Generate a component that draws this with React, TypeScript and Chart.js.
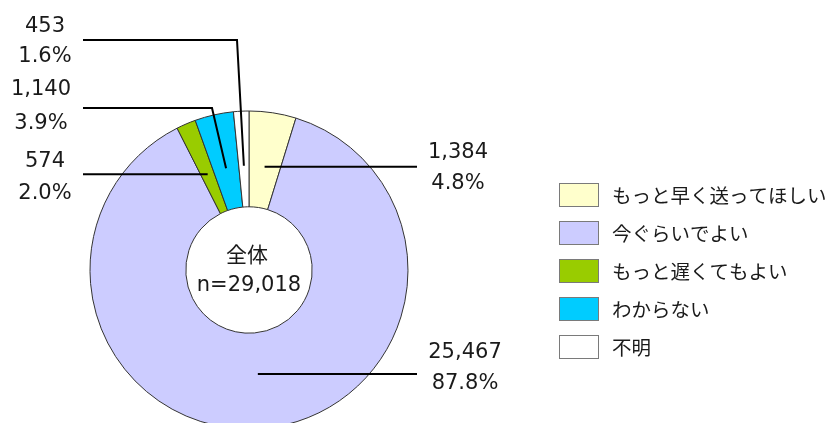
import React, { useEffect, useRef } from "react";
import { Chart, registerables } from "chart.js";

Chart.register(...registerables);

const categories = ["もっと早く送ってほしい", "今ぐらいでよい", "もっと遅くてもよい", "わからない", "不明"];
const counts = [1384, 25467, 574, 1140, 453];
const colors = ["#FFFFCC", "#CCCCFF", "#99CC00", "#00CCFF", "#FFFFFF"];
const centerTitle = "全体";

// label placement (layout only)
const labelLayout = [
  { cx: 458, y1: 158, y2: 189, elbowX: null as number | null, lineY: null as number | null, endX: 417 },
  { cx: 465, y1: 358, y2: 389, elbowX: null, lineY: null, endX: 417 },
  { cx: 45, y1: 166.7, y2: 199, elbowX: null, lineY: null, endX: 83 },
  { cx: 41, y1: 95, y2: 129, elbowX: 212, lineY: 108, endX: 83 },
  { cx: 45, y1: 31.7, y2: 62.3, elbowX: 237, lineY: 40, endX: 83 },
];

const NUM_FONT = "21px 'DejaVu Sans', 'Noto Sans CJK JP', sans-serif";
const JP_FONT = "19.5px 'Noto Sans CJK JP', sans-serif";

const total = counts.reduce((a, b) => a + b, 0);

const overlayPlugin = {
  id: "overlay",
  afterDraw(chart: any) {
    const ctx = chart.ctx as CanvasRenderingContext2D;
    const meta = chart.getDatasetMeta(0);
    ctx.save();
    // leader lines + labels
    meta.data.forEach((arc: any, i: number) => {
      const p = arc.getProps(["x", "y", "startAngle", "endAngle", "innerRadius", "outerRadius"], true);
      const mid = (p.startAngle + p.endAngle) / 2;
      const r = p.innerRadius + (p.outerRadius - p.innerRadius) * 0.43;
      const ax = p.x + Math.cos(mid) * r;
      const ay = p.y + Math.sin(mid) * r;
      const L = labelLayout[i];
      ctx.strokeStyle = "#000";
      ctx.lineWidth = 2;
      ctx.beginPath();
      ctx.moveTo(ax, ay);
      if (L.elbowX != null && L.lineY != null) {
        ctx.lineTo(L.elbowX, L.lineY);
        ctx.lineTo(L.endX, L.lineY);
      } else {
        ctx.lineTo(L.endX, ay);
      }
      ctx.stroke();
      ctx.fillStyle = "#1a1a1a";
      ctx.font = NUM_FONT;
      ctx.textAlign = "center";
      ctx.textBaseline = "alphabetic";
      ctx.fillText(counts[i].toLocaleString("en-US"), L.cx, L.y1);
      ctx.fillText(((counts[i] / total) * 100).toFixed(1) + "%", L.cx, L.y2);
    });
    // center text
    const c = meta.data[0].getProps(["x", "y"], true);
    ctx.fillStyle = "#1a1a1a";
    ctx.textAlign = "center";
    ctx.font = "21px 'Noto Sans CJK JP', sans-serif";
    ctx.textBaseline = "middle";
    ctx.fillText(centerTitle, c.x - 2, c.y - 16);
    ctx.font = NUM_FONT;
    ctx.textBaseline = "alphabetic";
    ctx.fillText("n=" + total.toLocaleString("en-US"), c.x, c.y + 21);
    // legend
    categories.forEach((name, i) => {
      const top = 183 + i * 38;
      ctx.fillStyle = colors[i];
      ctx.fillRect(559.5, top + 0.5, 39, 23);
      ctx.strokeStyle = "#7a7a7a";
      ctx.lineWidth = 1;
      ctx.strokeRect(559.5, top + 0.5, 39, 23);
      ctx.fillStyle = "#1a1a1a";
      ctx.font = JP_FONT;
      ctx.textAlign = "left";
      ctx.textBaseline = "middle";
      ctx.fillText(name, 612, top + 13);
    });
    ctx.restore();
  },
};

export default function App() {
  const ref = useRef<HTMLCanvasElement>(null);
  useEffect(() => {
    if (!ref.current) return;
    const chart = new Chart(ref.current, {
      type: "doughnut",
      data: {
        labels: categories,
        datasets: [
          {
            data: counts,
            backgroundColor: colors,
            borderColor: "#333333",
            borderWidth: 1,
          },
        ],
      },
      options: {
        responsive: false,
        animation: false,
        devicePixelRatio: 1,
        events: [],
        radius: 159,
        cutout: 63,
        layout: { padding: { left: 90, right: 426, top: 111, bottom: 11 } },
        plugins: { legend: { display: false }, tooltip: { enabled: false } },
      } as any,
      plugins: [overlayPlugin],
    });
    return () => chart.destroy();
  }, []);
  return (
    <div
      style={{
        position: "fixed",
        left: 0,
        top: 0,
        width: 834,
        height: 423,
        overflow: "hidden",
        background: "#fff",
      }}
    >
      <canvas ref={ref} width={834} height={440} style={{ display: "block", width: 834, height: 440 }} />
    </div>
  );
}
